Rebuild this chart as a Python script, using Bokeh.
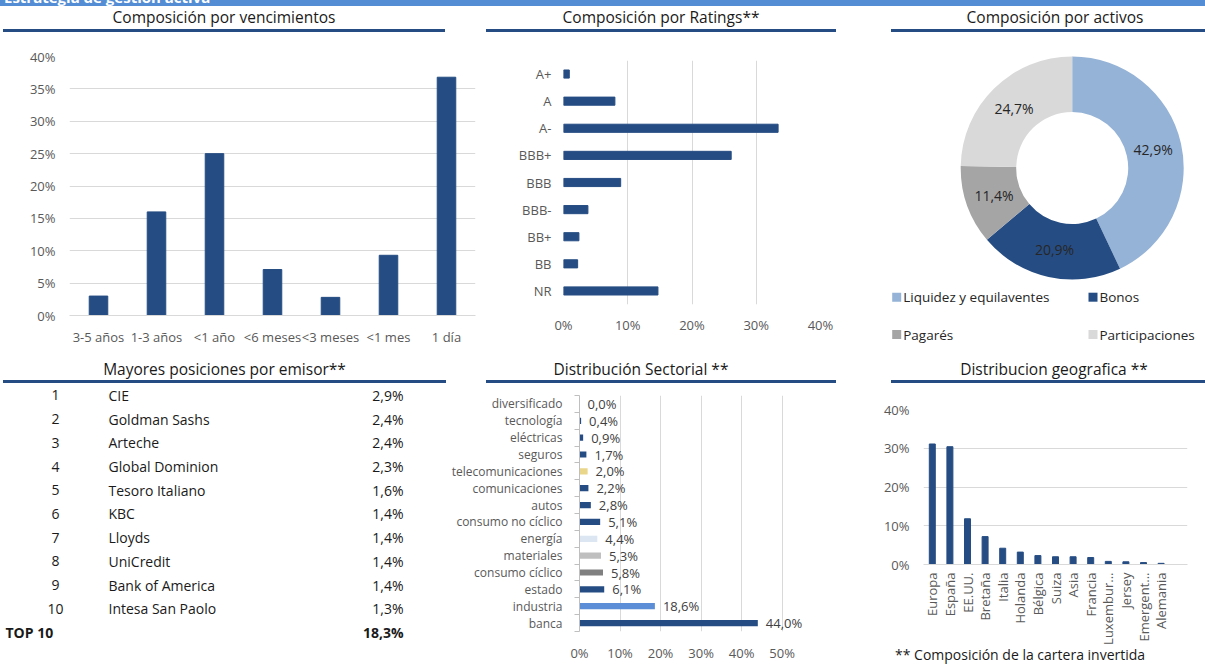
import math
from bokeh.plotting import figure
from bokeh.models import (Range1d, FactorRange, FixedTicker, PrintfTickFormatter,
                          CustomJSTickFormatter, Div, ColumnDataSource)
from bokeh.layouts import row, column
from bokeh.core.properties import value
from bokeh.embed import file_html
from bokeh.resources import INLINE

# ---------------- data ----------------
header_text = "Estrategia de gestión activa"

venc_cats = ["3-5 años", "1-3 años", "<1 año", "<6 meses", "<3 meses", "<1 mes", "1 día"]
venc_vals = [3.0, 16.0, 25.0, 7.1, 2.8, 9.3, 36.8]

rating_cats = ["A+", "A", "A-", "BBB+", "BBB", "BBB-", "BB+", "BB", "NR"]
rating_vals = [0.9, 8.0, 33.4, 26.1, 8.9, 3.8, 2.4, 2.2, 14.7]

activos_cats = ["Liquidez y equilaventes", "Bonos", "Pagarés", "Participaciones"]
activos_vals = [42.9, 20.9, 11.4, 24.7]
activos_colors = ["#95B3D7", "#264D83", "#A5A5A5", "#D9D9D9"]

emisor_rank = ["1", "2", "3", "4", "5", "6", "7", "8", "9", "10"]
emisor_names = ["CIE", "Goldman Sashs", "Arteche", "Global Dominion", "Tesoro Italiano",
                "KBC", "Lloyds", "UniCredit", "Bank of America", "Intesa San Paolo"]
emisor_vals = [2.9, 2.4, 2.4, 2.3, 1.6, 1.4, 1.4, 1.4, 1.4, 1.3]
top10_label = "TOP 10"
top10_total = 18.3

sector_cats = ["diversificado", "tecnología", "eléctricas", "seguros", "telecomunicaciones",
               "comunicaciones", "autos", "consumo no cíclico", "energía", "materiales",
               "consumo cíclico", "estado", "industria", "banca"]
sector_vals = [0.0, 0.4, 0.9, 1.7, 2.0, 2.2, 2.8, 5.1, 4.4, 5.3, 5.8, 6.1, 18.6, 44.0]
sector_colors = ["#264D83", "#264D83", "#264D83", "#264D83", "#E9D68A", "#264D83", "#264D83",
                 "#264D83", "#DCE6F2", "#BFBFBF", "#808080", "#264D83", "#5B8ED6", "#264D83"]

geo_cats = ["Europa", "España", "EE.UU.", "Bretaña", "Italia", "Holanda", "Bélgica", "Suiza",
            "Asia", "Francia", "Luxembur...", "Jersey", "Emergent...", "Alemania"]
geo_vals = [31.1, 30.4, 11.8, 7.2, 4.2, 3.2, 2.3, 2.0, 2.0, 1.8, 0.8, 0.7, 0.5, 0.3]

footnote = "** Composición de la cartera invertida"

# ---------------- styles ----------------
FONT = "Open Sans"
NAVY = "#264D83"
GRID = "#D9D9D9"
TICK = "#595959"
TXT = "#1a1a1a"


def pct(v):
    return f"{v:.1f}%".replace(".", ",")


def make_fig(w, h, xr, yr, left, right, top, bottom, axes=True):
    kw = {}
    if not axes:
        kw = dict(x_axis_location=None, y_axis_location=None)
    p = figure(width=w, height=h, x_range=xr, y_range=yr, output_backend="svg",
               toolbar_location=None, min_border_left=left, min_border_right=right,
               min_border_top=top, min_border_bottom=bottom, outline_line_color=None,
               background_fill_color="white", border_fill_color="white", **kw)
    for ax in p.axis:
        ax.major_label_text_font = FONT
        ax.major_label_text_color = TICK
        ax.major_label_text_font_size = "13px"
        ax.major_tick_line_color = None
        ax.minor_tick_line_color = None
        ax.axis_line_color = None
        ax.major_tick_out = 0
        ax.major_tick_in = 0
    p.grid.grid_line_color = None
    return p


def title_div(text, width, height, offset, pad_top=0, pad_left=0, pad_right=0):
    html = (f'<div style="box-sizing:border-box;width:{width}px;height:{height}px;'
            f'padding-top:{pad_top}px;padding-left:{pad_left}px;padding-right:{pad_right}px;'
            f'border-bottom:3px solid {NAVY};text-align:center;font-family:\'{FONT}\';'
            f'font-weight:400;font-size:15.5px;line-height:18px;color:{TXT};white-space:nowrap;">{text}</div>')
    return Div(text=html, width=width, height=height, margin=(0, 0, 0, offset))


pct_fmt = PrintfTickFormatter(format="%d%%")

# ---------------- header bar (its text is cut off at the top, as in the source page) ----------------
header = Div(text=(f'<div style="position:relative;top:-12px;padding-left:4px;font-family:\'{FONT}\';'
                   f'font-weight:700;font-size:15px;line-height:18px;color:white;'
                   f'white-space:nowrap;">{header_text}</div>'),
             width=1205, height=6, margin=(0, 0, 0, 0),
             styles={"background-color": "#548DD4", "overflow": "hidden"})

# ---------------- Panel A: vencimientos ----------------
srcA = ColumnDataSource(dict(cat=venc_cats, val=venc_vals))
pA = make_fig(485, 316, FactorRange(factors=venc_cats), Range1d(0, 40), 69, 10, 24, 33)
pA.vbar(x="cat", top="val", width=0.32, color=NAVY, source=srcA)
pA.yaxis.ticker = FixedTicker(ticks=[0, 5, 10, 15, 20, 25, 30, 35, 40])
pA.yaxis.formatter = pct_fmt
pA.yaxis.major_label_standoff = 14
pA.xaxis.major_label_standoff = 12
pA.xaxis.axis_line_color = GRID
pA.ygrid.grid_line_color = GRID
colA = column(title_div("Composición por vencimientos", 442, 26, 3, pad_top=2), pA)

# ---------------- Panel B: ratings ----------------
srcB = ColumnDataSource(dict(cat=rating_cats, val=rating_vals))
pB = make_fig(403, 316, Range1d(0, 40), FactorRange(factors=rating_cats[::-1]), 78, 68, 28, 44)
pB.hbar(y="cat", left=0, right="val", height=0.3, color=NAVY, source=srcB)
pB.xaxis.ticker = FixedTicker(ticks=[0, 10, 20, 30, 40])
pB.xaxis.formatter = pct_fmt
pB.xaxis.major_label_standoff = 11
pB.yaxis.major_label_standoff = 12
pB.xgrid.grid_line_color = GRID
colB = column(title_div("Composición por Ratings**", 350, 26, 1, pad_top=2), pB)

# ---------------- Panel C: donut ----------------
pC = make_fig(317, 316, Range1d(0, 317), Range1d(0, 316), 0, 0, 0, 0, axes=False)
cx, cy = 183.7, 180.5
tot = sum(activos_vals)
starts, ends, lx, ly = [], [], [], []
cum = 0.0
for v in activos_vals:
    a0 = math.pi / 2 - 2 * math.pi * cum / tot
    a1 = math.pi / 2 - 2 * math.pi * (cum + v) / tot
    mid = (a0 + a1) / 2
    starts.append(a0)
    ends.append(a1)
    lx.append(cx + 83 * math.cos(mid))
    ly.append(cy + 83 * math.sin(mid))
    cum += v
srcC = ColumnDataSource(dict(start=starts, end=ends, color=activos_colors,
                             lx=lx, ly=ly, lab=[pct(v) for v in activos_vals],
                             cat=activos_cats))
pC.annular_wedge(x=cx, y=cy, inner_radius=56, outer_radius=111.5,
                 inner_radius_units="screen", outer_radius_units="screen",
                 start_angle="start", end_angle="end", direction="clock",
                 fill_color="color", line_color=None, source=srcC)
pC.text(x="lx", y="ly", text="lab", text_align="center", text_baseline="middle",
        text_font=value(FONT), text_font_size="14px", text_color="#262626", source=srcC)
# legend (2 columns)
leg_x = [8.2 + 196.3 * (i % 2) for i in range(len(activos_cats))]
leg_y = [51.3 - 37.3 * (i // 2) for i in range(len(activos_cats))]
pC.scatter(x=leg_x, y=leg_y, marker="square", size=9, color=activos_colors, line_color=None)
pC.text(x=[x + 6.5 for x in leg_x], y=leg_y, text=activos_cats, text_align="left",
        text_baseline="middle", text_font=value(FONT), text_font_size="13.5px",
        text_color="#262626")
colC = column(title_div("Composición por activos", 314, 26, 3, pad_top=2, pad_left=14), pC)

# ---------------- Panel D: table ----------------
pD = make_fig(448, 281, Range1d(0, 448), Range1d(11.35, -0.506), 0, 0, 0, 0, axes=False)
idx = list(range(len(emisor_names)))
common = dict(text_font=value(FONT), text_font_size="14px", text_color=TXT, text_baseline="middle")
pD.text(x=55, y=idx, text=emisor_rank, text_align="center", **common)
pD.text(x=108, y=idx, text=emisor_names, text_align="left", **common)
pD.text(x=403, y=idx, text=[pct(v) for v in emisor_vals], text_align="right", **common)
pD.text(x=[5], y=[len(idx)], text=[top10_label], text_align="left", text_font_style="bold", **common)
pD.text(x=[403], y=[len(idx)], text=[pct(top10_total)], text_align="right",
        text_font_style="bold", **common)
colD = column(title_div("Mayores posiciones por emisor**", 443, 35, 3, pad_top=12), pD)

# ---------------- Panel E: sectorial ----------------
n = len(sector_cats)
ys = [n - 1 - i for i in range(n)]
srcE = ColumnDataSource(dict(y=ys, val=sector_vals, color=sector_colors,
                             lab=[pct(v) for v in sector_vals]))
pE = make_fig(432, 281, Range1d(0, 57), Range1d(-0.5, n - 0.5), 125, 70, 12, 29)
pE.hbar(y="y", left=0, right="val", height=0.37, fill_color="color", line_color=None, source=srcE)
pE.text(x="val", y="y", text="lab", x_offset=8, text_align="left", text_baseline="middle",
        text_font=value(FONT), text_font_size="13px", text_color="#404040", source=srcE)
pE.xaxis.ticker = FixedTicker(ticks=[0, 10, 20, 30, 40, 50])
pE.xaxis.formatter = pct_fmt
pE.xaxis.major_label_standoff = 12
pE.xgrid.grid_line_color = GRID
pE.yaxis.ticker = FixedTicker(ticks=ys, minor_ticks=[k - 0.5 for k in range(n + 1)])
pE.yaxis.formatter = CustomJSTickFormatter(args=dict(labels=sector_cats[::-1]),
                                           code="const l = labels[Math.round(tick)]; return l === undefined ? '' : l;")
pE.yaxis.major_label_text_font_size = "12px"
pE.yaxis.major_label_standoff = 12
pE.yaxis.axis_line_color = "#BFBFBF"
pE.yaxis.minor_tick_line_color = "#BFBFBF"
pE.yaxis.minor_tick_out = 5
pE.yaxis.minor_tick_in = 0
colE = column(title_div("Distribución Sectorial **", 350, 35, 38, pad_top=12, pad_right=40), pE)

# ---------------- Panel F: geografía ----------------
srcF = ColumnDataSource(dict(cat=geo_cats, val=geo_vals))
pF = make_fig(325, 264, FactorRange(factors=geo_cats + [" "]), Range1d(0, 40), 40, 18, 26, 79)
pF.vbar(x="cat", top="val", width=0.34, color=NAVY, source=srcF)
pF.yaxis.ticker = FixedTicker(ticks=[0, 10, 20, 30, 40])
pF.yaxis.formatter = pct_fmt
pF.yaxis.major_label_standoff = 14
pF.xaxis.major_label_orientation = math.pi / 2
pF.xaxis.major_label_standoff = 8
pF.xaxis.axis_line_color = GRID
pF.ygrid.grid_line_color = GRID
foot = Div(text=(f'<div style="font-family:\'{FONT}\';font-weight:400;font-size:14px;line-height:16px;'
                 f'color:{TXT};padding-left:15px;white-space:nowrap;">{footnote}</div>'),
           width=325, height=17, margin=(0, 0, 0, 0))
colF = column(title_div("Distribucion geografica **", 314, 35, 11, pad_top=12, pad_left=12), pF, foot)

layout = column(header, row(colA, colB, colC), row(colD, colE, colF))

open("out.html", "w").write(file_html(layout, INLINE))
